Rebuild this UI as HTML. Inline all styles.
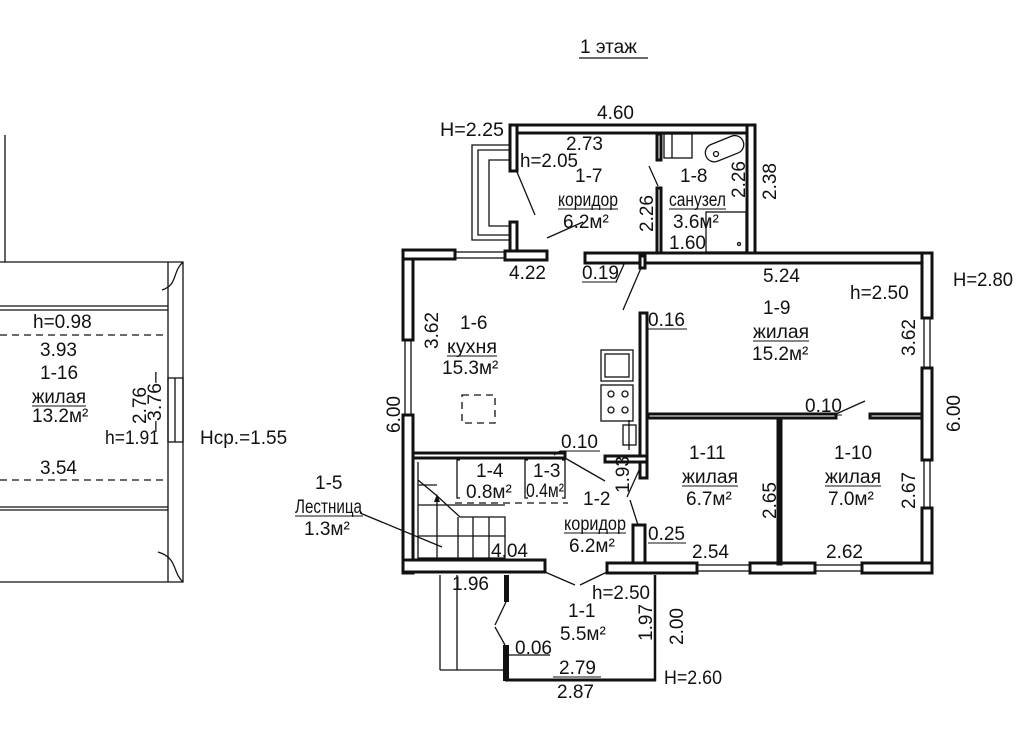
<!DOCTYPE html>
<html><head><meta charset="utf-8"><style>
html,body{margin:0;padding:0;background:#fff;}
svg{display:block;}
text{font-family:"Liberation Sans",Arial,sans-serif;font-size:19px;fill:#111;}
.w{fill:#fff;stroke:#111;stroke-width:3;}
.t{stroke:#111;stroke-width:1.3;fill:none;}
.d{stroke:#111;stroke-width:1.3;fill:none;stroke-dasharray:7,5;}
</style></head><body>
<svg width="1024" height="753" viewBox="0 0 1024 753" xmlns="http://www.w3.org/2000/svg">
<rect width="1024" height="753" fill="#fff"/>
<text x="580" y="53" font-size="20">1 этаж</text>
<line x1="579" y1="58" x2="648" y2="58" stroke="#111" stroke-width="1.2"/>

<line class="t" x1="5" y1="135" x2="5" y2="262"/>
<polyline class="t" points="0,262 183,262 183,582 0,582"/>
<line class="t" x1="168" y1="262" x2="168" y2="582"/>
<line class="t" x1="0" y1="306" x2="168" y2="306"/>
<line class="t" x1="0" y1="310" x2="168" y2="310"/>
<line class="t" x1="0" y1="507" x2="168" y2="507"/>
<line class="t" x1="0" y1="510" x2="168" y2="510"/>
<line class="d" x1="0" y1="335" x2="168" y2="335"/>
<line class="d" x1="0" y1="480" x2="168" y2="480"/>
<rect class="t" x="168" y="378" width="15" height="64" fill="#fff"/>
<line class="t" x1="175" y1="378" x2="175" y2="442"/>
<path class="t" d="M183,262 C172,272 178,285 162,290"/>
<path class="t" d="M183,582 C172,572 178,558 158,552"/>
<text x="33" y="328">h=0.98</text>
<text x="40" y="356">3.93</text>
<text x="40" y="379">1-16</text>
<text x="32" y="403" textLength="54" lengthAdjust="spacingAndGlyphs">жилая</text>
<line x1="32" y1="406" x2="86" y2="406" stroke="#111" stroke-width="1"/>
<text x="32" y="422">13.2м²</text>
<text x="105" y="444" textLength="54" lengthAdjust="spacingAndGlyphs">h=1.91</text>
<text x="40" y="474">3.54</text>
<text transform="translate(146,424) rotate(-90)">2.76</text>
<text transform="translate(161,432) rotate(-90)" textLength="60" lengthAdjust="spacingAndGlyphs">–3.76–</text>
<text x="200" y="444">Нср.=1.55</text>

<polyline class="t" points="510,145 472,145 472,240 510,240"/>
<polyline class="t" points="510,150 478,150 478,235 510,235"/>
<polyline class="t" points="510,160 489,160 489,226 510,226"/>

<rect class="w" x="510" y="125" width="245" height="8"/>
<rect class="w" x="747" y="125" width="8" height="128"/>
<rect class="w" x="510" y="125" width="7" height="46"/>
<rect class="w" x="510" y="222" width="7" height="30"/>
<rect class="w" x="657" y="188" width="4" height="66"/>
<rect class="w" x="657" y="134" width="4" height="26"/>
<line class="t" x1="649" y1="166" x2="658" y2="186"/>
<line class="t" x1="517" y1="172" x2="535" y2="215"/>
<line class="t" x1="547" y1="238" x2="583" y2="222"/>
<rect class="t" x="664" y="134" width="28" height="24"/>
<line class="t" x1="672" y1="134" x2="672" y2="158"/>
<g transform="rotate(-22 724 150)"><rect class="t" x="705" y="140" width="40" height="18" rx="9"/></g>
<circle class="t" cx="716" cy="154" r="2.5"/>
<rect class="t" x="706" y="212" width="40" height="40"/>
<circle class="t" cx="739" cy="244" r="1.5"/>

<rect class="w" x="403" y="250" width="10" height="90"/>
<rect class="w" x="403" y="415" width="10" height="158"/>
<rect class="t" x="405" y="340" width="6" height="75"/>
<rect class="w" x="403" y="250" width="52" height="9"/>
<rect class="t" x="455" y="252" width="50" height="6"/>
<rect class="w" x="505" y="251" width="42" height="9"/>
<rect class="w" x="585" y="253" width="347" height="10"/>
<rect class="w" x="922" y="253" width="10" height="65"/>
<rect class="t" x="924" y="318" width="6" height="50"/>
<rect class="w" x="922" y="368" width="10" height="92"/>
<rect class="t" x="924" y="460" width="6" height="48"/>
<rect class="w" x="922" y="508" width="10" height="65"/>
<rect class="w" x="862" y="563" width="70" height="10"/>
<rect class="t" x="815" y="565" width="47" height="6"/>
<rect class="w" x="750" y="563" width="65" height="10"/>
<rect class="t" x="697" y="565" width="53" height="6"/>
<rect class="w" x="607" y="563" width="90" height="10"/>
<rect class="w" x="403" y="560" width="142" height="12"/>

<rect class="w" x="640" y="313" width="7" height="165"/>
<rect class="w" x="605" y="456" width="42" height="6"/>
<rect class="w" x="413" y="453" width="152" height="5"/>
<rect class="w" x="640" y="256" width="5" height="12"/>
<line class="t" x1="641" y1="268" x2="623" y2="310"/>
<rect class="w" x="648" y="414" width="188" height="4"/>
<rect class="w" x="870" y="414" width="52" height="4"/>
<line class="t" x1="836" y1="414" x2="865" y2="401"/>
<rect class="w" x="778" y="418" width="3" height="146"/>
<line class="t" x1="640" y1="468" x2="627" y2="497"/>
<line class="t" x1="630" y1="500" x2="638" y2="525"/>
<rect class="w" x="633" y="525" width="12" height="38"/>
<line class="t" x1="545" y1="572" x2="575" y2="585"/>
<line class="t" x1="607" y1="572" x2="580" y2="585"/>
<line class="t" x1="565" y1="458" x2="605" y2="481"/>
<rect class="t" x="601" y="350" width="32" height="31"/>
<rect class="t" x="605" y="354" width="24" height="23"/>
<rect class="t" x="601" y="385" width="32" height="36"/>
<circle class="t" cx="611" cy="394" r="3"/><circle class="t" cx="625" cy="394" r="3"/>
<circle class="t" cx="611" cy="410" r="3"/><circle class="t" cx="625" cy="410" r="3"/>
<rect class="t" x="623" y="425" width="13" height="20"/>
<line class="t" x1="629" y1="420" x2="629" y2="450"/>
<rect class="d" x="462" y="395" width="33" height="28" stroke-dasharray="6,6"/>

<polyline class="t" points="460,460 457,460 457,498 460,498"/>
<polyline class="t" points="528,460 525,460 525,498 528,498"/>
<polyline class="t" points="562,460 565,460 565,498 562,498"/>
<line class="d" x1="455" y1="503" x2="568" y2="503"/>
<polyline class="t" points="418,462 418,558 505,558 505,517 460,517 436,495 418,480"/>
<line class="t" x1="418" y1="485" x2="437" y2="485"/>
<line class="t" x1="418" y1="505" x2="505" y2="505"/>
<line class="t" x1="437" y1="498" x2="437" y2="558"/>
<line class="t" x1="458" y1="517" x2="458" y2="558"/>
<line class="t" x1="473" y1="517" x2="473" y2="558"/>
<line class="t" x1="489" y1="517" x2="489" y2="558"/>
<line class="t" x1="437" y1="536" x2="505" y2="536"/>
<line class="t" x1="418" y1="536" x2="437" y2="536"/>
<polygon points="437,494 434,502 440,502" fill="#111"/>
<line class="t" x1="360" y1="513" x2="442" y2="547"/>

<line class="t" x1="440" y1="575" x2="440" y2="670"/>
<line class="t" x1="457" y1="575" x2="457" y2="670"/>
<line class="t" x1="440" y1="670" x2="505" y2="670"/>
<rect x="504" y="575" width="5" height="27" fill="#111"/>
<rect x="503" y="645" width="6" height="36" fill="#111"/>
<line class="t" x1="506" y1="602" x2="495" y2="625"/>
<line class="t" x1="495" y1="627" x2="505" y2="645"/>
<line x1="505" y1="680" x2="656" y2="680" stroke="#111" stroke-width="3"/>
<line x1="655" y1="575" x2="655" y2="681" stroke="#111" stroke-width="2.5"/>
<line class="t" x1="505" y1="655" x2="550" y2="655"/>

<text x="440" y="136" textLength="64" lengthAdjust="spacingAndGlyphs">Н=2.25</text>
<text x="597" y="119">4.60</text>
<text x="566" y="150">2.73</text>
<text x="520" y="167" textLength="58" lengthAdjust="spacingAndGlyphs">h=2.05</text>
<text x="575" y="182">1-7</text>
<text x="558" y="206" textLength="60" lengthAdjust="spacingAndGlyphs">коридор</text>
<line x1="558" y1="209" x2="618" y2="209" stroke="#111" stroke-width="1"/>
<text x="563" y="228">6.2м²</text>
<text transform="translate(653,232) rotate(-90)">2.26</text>
<text x="680" y="182">1-8</text>
<text x="669" y="206" textLength="57" lengthAdjust="spacingAndGlyphs">санузел</text>
<line x1="669" y1="209" x2="726" y2="209" stroke="#111" stroke-width="1"/>
<text x="673" y="228">3.6м²</text>
<text x="669" y="249">1.60</text>
<text transform="translate(745,198) rotate(-90)">2.26</text>
<text transform="translate(776,200) rotate(-90)">2.38</text>

<text x="509" y="279">4.22</text>
<text x="582" y="279">0.19</text>
<line x1="582" y1="282" x2="617" y2="282" stroke="#111" stroke-width="1"/>
<line class="t" x1="616" y1="282" x2="625" y2="262"/>
<text x="763" y="282">5.24</text>
<text x="850" y="299">h=2.50</text>
<text x="953" y="286" textLength="60" lengthAdjust="spacingAndGlyphs">Н=2.80</text>
<text x="460" y="329">1-6</text>
<text x="447" y="353" textLength="50" lengthAdjust="spacingAndGlyphs">кухня</text>
<line x1="447" y1="356" x2="497" y2="356" stroke="#111" stroke-width="1"/>
<text x="442" y="374">15.3м²</text>
<text transform="translate(438,349) rotate(-90)">3.62</text>
<text transform="translate(400,433) rotate(-90)">6.00</text>
<text x="648" y="326">0.16</text>
<line x1="648" y1="329" x2="687" y2="329" stroke="#111" stroke-width="1"/>
<text x="763" y="314">1-9</text>
<text x="753" y="338" textLength="56" lengthAdjust="spacingAndGlyphs">жилая</text>
<line x1="753" y1="341" x2="809" y2="341" stroke="#111" stroke-width="1"/>
<text x="752" y="360">15.2м²</text>
<text transform="translate(915,356) rotate(-90)">3.62</text>
<text transform="translate(960,432) rotate(-90)">6.00</text>
<text x="805" y="412">0.10</text>
<line x1="803" y1="415" x2="842" y2="415" stroke="#111" stroke-width="1"/>
<text x="561" y="448">0.10</text>
<line x1="560" y1="451" x2="600" y2="451" stroke="#111" stroke-width="1"/>
<line class="t" x1="560" y1="451" x2="554" y2="455"/>
<text x="476" y="477">1-4</text>
<text x="466" y="498">0.8м²</text>
<text x="533" y="477" font-size="15">1-3</text>
<text x="526" y="497" font-size="15" textLength="38" lengthAdjust="spacingAndGlyphs">0.4м²</text>
<text transform="translate(629,493) rotate(-90)">1.93</text>
<text x="583" y="505">1-2</text>
<text x="564" y="530" textLength="62" lengthAdjust="spacingAndGlyphs">коридор</text>
<line x1="564" y1="533" x2="626" y2="533" stroke="#111" stroke-width="1"/>
<text x="569" y="552">6.2м²</text>
<text x="648" y="540">0.25</text>
<line x1="648" y1="543" x2="686" y2="543" stroke="#111" stroke-width="1"/>
<text x="689" y="459">1-11</text>
<text x="682" y="483" textLength="56" lengthAdjust="spacingAndGlyphs">жилая</text>
<line x1="682" y1="486" x2="738" y2="486" stroke="#111" stroke-width="1"/>
<text x="686" y="505">6.7м²</text>
<text transform="translate(776,519) rotate(-90)">2.65</text>
<text x="834" y="459">1-10</text>
<text x="825" y="483" textLength="56" lengthAdjust="spacingAndGlyphs">жилая</text>
<line x1="825" y1="486" x2="881" y2="486" stroke="#111" stroke-width="1"/>
<text x="828" y="505">7.0м²</text>
<text transform="translate(915,509) rotate(-90)">2.67</text>
<text x="692" y="558">2.54</text>
<text x="826" y="558">2.62</text>
<text x="491" y="557">4.04</text>
<text x="315" y="489">1-5</text>
<text x="295" y="513" textLength="67" lengthAdjust="spacingAndGlyphs">Лестница</text>
<line x1="295" y1="516" x2="363" y2="516" stroke="#111" stroke-width="1"/>
<text x="304" y="535">1.3м²</text>
<text x="452" y="590">1.96</text>
<text x="592" y="599" textLength="58" lengthAdjust="spacingAndGlyphs">h=2.50</text>
<text x="568" y="617">1-1</text>
<text x="560" y="640">5.5м²</text>
<text transform="translate(652,641) rotate(-90)">1.97</text>
<text transform="translate(683,645) rotate(-90)">2.00</text>
<text x="515" y="654">0.06</text>
<text x="559" y="674">2.79</text>
<line x1="553" y1="677" x2="601" y2="677" stroke="#111" stroke-width="1"/>
<text x="557" y="698">2.87</text>
<text x="664" y="684" textLength="58" lengthAdjust="spacingAndGlyphs">Н=2.60</text>
</svg>
</body></html>
